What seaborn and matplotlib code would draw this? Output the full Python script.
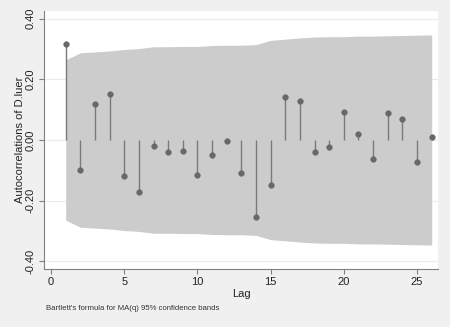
import numpy as np
import pandas as pd
import matplotlib
matplotlib.use("Agg")
import matplotlib.pyplot as plt
import seaborn as sns

# Autocorrelations of D.luer by lag, with Bartlett 95% band half-widths
lags = list(range(1, 27))
acf = [0.316, -0.098, 0.119, 0.151, -0.117, -0.172, -0.020, -0.040, -0.036,
       -0.115, -0.048, -0.004, -0.108, -0.254, -0.148, 0.140, 0.128, -0.039,
       -0.024, 0.091, 0.021, -0.061, 0.090, 0.068, -0.074, 0.011]
band = [0.264, 0.287, 0.290, 0.293, 0.298, 0.301, 0.307, 0.307, 0.308,
        0.308, 0.311, 0.312, 0.312, 0.314, 0.328, 0.332, 0.336, 0.339,
        0.340, 0.340, 0.342, 0.342, 0.343, 0.344, 0.345, 0.346]
xticks = [0, 5, 10, 15, 20, 25]
yticks = [-0.40, -0.20, 0.00, 0.20, 0.40]
ytick_labels = ["-0.40", "-0.20", "0.00", "0.20", "0.40"]
note = "Bartlett's formula for MA(q) 95% confidence bands"

df = pd.DataFrame({"lag": lags, "acf": acf, "band": band})

sns.set_theme(style="white")
plt.rcParams["font.family"] = ["Liberation Sans", "DejaVu Sans"]

bg = "#f0f0f0"
fig = plt.figure(figsize=(4.5, 3.27), dpi=100, facecolor=bg)
ax = fig.add_axes([44 / 450, 1 - 269 / 327, (438 - 44) / 450, (269 - 11) / 327])
ax.set_facecolor("white")

# light horizontal grid beneath everything
for yv in yticks:
    ax.axhline(yv, color="#ececec", lw=0.8, zorder=0)

# confidence band
ax.fill_between(df["lag"], -df["band"], df["band"], color="#cccccc", lw=0, zorder=1)

# stems and markers
ax.vlines(df["lag"], 0, df["acf"], color="#7a7a7a", lw=1.0, zorder=2)
sns.scatterplot(data=df, x="lag", y="acf", ax=ax, color="#686868", s=17,
                edgecolor="#686868", linewidth=0.3, zorder=3)

ax.set_xlim(-0.48, 26.43)
ax.set_ylim(-0.4247, 0.4247)
ax.set_xticks(xticks)
ax.set_yticks(yticks)
ax.set_yticklabels(ytick_labels, rotation=90, va="center")

for side in ["top", "right"]:
    ax.spines[side].set_visible(False)
for side in ["left", "bottom"]:
    ax.spines[side].set_color("#808080")
    ax.spines[side].set_linewidth(0.8)

ax.tick_params(axis="both", which="major", direction="out", length=3.5,
               width=0.8, color="#808080", labelsize=8, labelcolor="#222222",
               left=True, bottom=True, pad=2.5)

ax.set_xlabel("Lag", fontsize=8, color="#222222", labelpad=1.5)
ax.set_ylabel("Autocorrelations of D.luer", fontsize=8, color="#222222", labelpad=0.5)

fig.text(46 / 450, 1 - 308.5 / 327, note, fontsize=5.6, color="#333333",
         ha="left", va="center")

fig.savefig("out.png", dpi=100, facecolor=bg)
